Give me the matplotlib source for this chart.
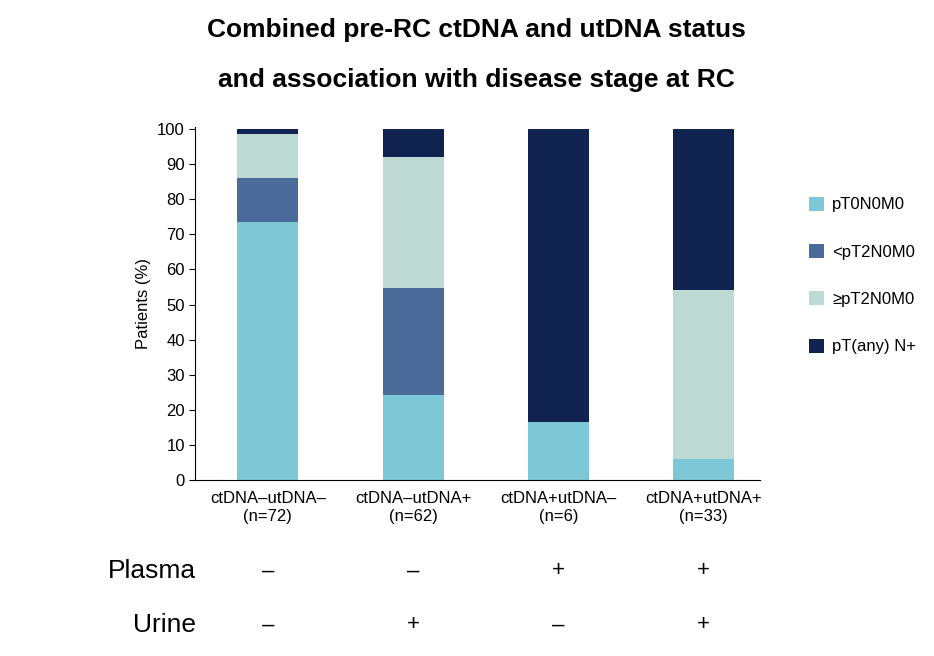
import matplotlib
matplotlib.use("Agg")
import matplotlib.pyplot as plt
import numpy as np

plt.rcParams['font.family'] = ['Liberation Sans', 'DejaVu Sans']

categories = ["ctDNA–utDNA–\n(n=72)", "ctDNA–utDNA+\n(n=62)", "ctDNA+utDNA–\n(n=6)", "ctDNA+utDNA+\n(n=33)"]
stages = ["pT0N0M0", "<pT2N0M0", "≥pT2N0M0", "pT(any) N+"]
pT0 = [73.6, 24.2, 16.7, 6.1]
ltT2 = [12.5, 30.6, 0.0, 0.0]
geT2 = [12.5, 37.1, 0.0, 48.0]
Nplus = [1.4, 8.1, 83.3, 45.9]
plasma = ["–", "–", "+", "+"]
urine = ["–", "+", "–", "+"]
colors = ["#7dc7d7", "#4a6b9a", "#bdd9d3", "#0f2250"]

fig = plt.figure(figsize=(9.34, 6.56), dpi=100)
ax = fig.add_axes([0.209, 0.268, 0.605, 0.538])
x = np.arange(len(categories))
bottom = np.zeros(len(categories))
handles = []
for vals, c, lab in zip([pT0, ltT2, geT2, Nplus], colors, stages):
    b = ax.bar(x, vals, 0.42, bottom=bottom, color=c, label=lab)
    bottom += np.array(vals)
    handles.append(b)
ax.set_xlim(-0.5, 3.39)
ax.set_ylim(0, 100.5)
ax.set_yticks(range(0, 101, 10))
ax.tick_params(axis='y', labelsize=12, length=4)
ax.tick_params(axis='x', length=0, labelsize=12, pad=8)
ax.set_xticks(x)
ax.set_xticklabels(categories)
ax.spines['top'].set_visible(False)
ax.spines['right'].set_visible(False)
ax.set_ylabel("Patients (%)", fontsize=12)

fig.legend(handles, stages, loc='center left', bbox_to_anchor=(0.85, 0.58),
           frameon=False, fontsize=12, labelspacing=1.9, handlelength=0.9,
           handleheight=0.9, handletextpad=0.5)

fig.text(0.51, 0.955, "Combined pre-RC ctDNA and utDNA status", ha='center', va='center',
         fontsize=19, fontweight='bold')
fig.text(0.51, 0.878, "and association with disease stage at RC", ha='center', va='center',
         fontsize=19, fontweight='bold')

for i in range(4):
    xd = ax.transData.transform((x[i], 0))[0] / fig.bbox.width
    fig.text(xd, 1 - 571 / 656, plasma[i], ha='center', va='center', fontsize=16)
    fig.text(xd, 1 - 625 / 656, urine[i], ha='center', va='center', fontsize=16)
fig.text(0.21, 1 - 571 / 656, "Plasma", ha='right', va='center', fontsize=19)
fig.text(0.21, 1 - 625 / 656, "Urine", ha='right', va='center', fontsize=19)

fig.savefig("out.png", dpi=100)
